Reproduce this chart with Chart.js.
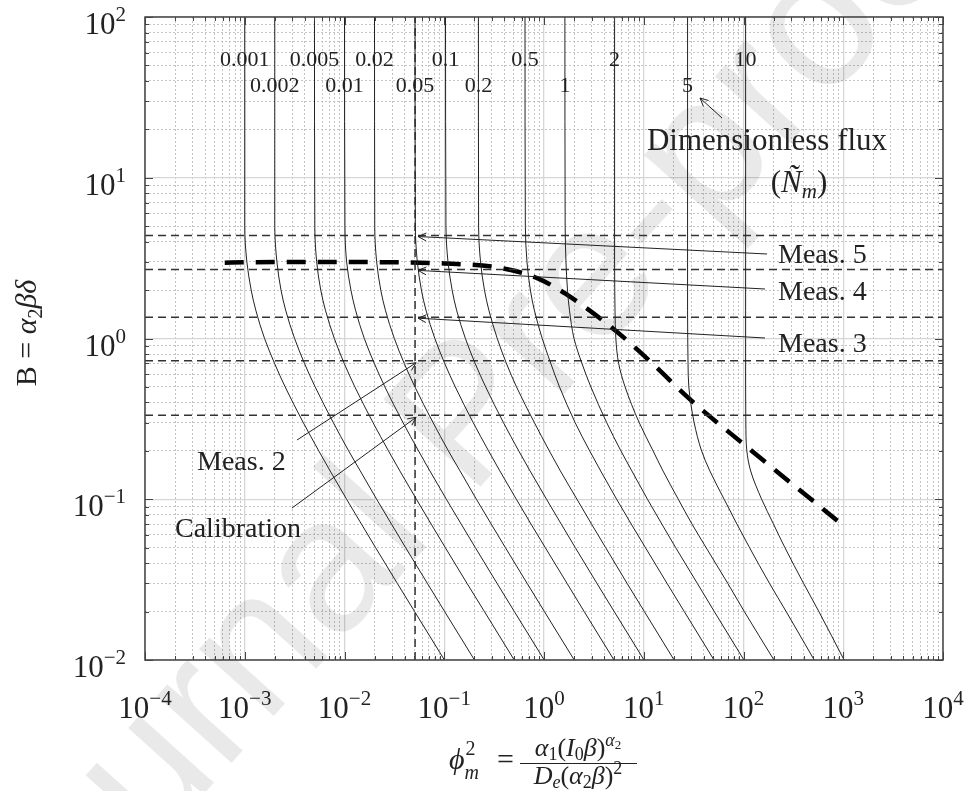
<!DOCTYPE html>
<html>
<head>
<meta charset="utf-8">
<script src="https://cdn.jsdelivr.net/npm/chart.js@4.4.0/dist/chart.umd.min.js"></script>
<style>
  html, body { margin: 0; padding: 0; background: #fff; }
</style>
</head>
<body>
<canvas id="myChart" width="966" height="791"></canvas>
<script>
var bGrid = [100, 5, 3, 2, 1.5, 1, 0.7, 0.5, 0.3, 0.2, 0.15, 0.1, 0.07, 0.05, 0.03, 0.02, 0.01];

// flux labels of the curves
var fluxLabels = ['0.001', '0.002', '0.005', '0.01', '0.02', '0.05', '0.1', '0.2', '0.5', '1', '2', '5', '10'];

// phi_m^2 (x) of each curve at the B values above
var flux0001 = [0.001, 0.001, 0.00105, 0.00116, 0.00129, 0.00158, 0.00199, 0.00254, 0.00386, 0.00552, 0.00718, 0.0105, 0.0148, 0.0205, 0.0338, 0.0505, 0.1005];
var flux0002 = [0.002, 0.002, 0.0021, 0.00231, 0.00257, 0.00316, 0.00397, 0.00508, 0.00772, 0.011, 0.0144, 0.021, 0.0296, 0.041, 0.0677, 0.101, 0.201];
var flux0005 = [0.005, 0.00504, 0.00526, 0.00578, 0.00644, 0.00791, 0.00993, 0.0127, 0.0193, 0.0276, 0.0359, 0.0526, 0.074, 0.1025, 0.169, 0.253, 0.503];
var flux001 = [0.01, 0.0101, 0.0105, 0.0116, 0.0129, 0.0158, 0.0199, 0.0254, 0.0386, 0.0552, 0.0718, 0.105, 0.148, 0.205, 0.338, 0.505, 1.005];
var flux002 = [0.02, 0.0201, 0.021, 0.0231, 0.0257, 0.0316, 0.0397, 0.0508, 0.0772, 0.11, 0.144, 0.21, 0.296, 0.41, 0.677, 1.01, 2.01];
var flux005 = [0.051, 0.0513, 0.0537, 0.059, 0.0656, 0.0805, 0.101, 0.129, 0.195, 0.278, 0.361, 0.528, 0.742, 1.03, 1.7, 2.53, 5.03];
var flux01 = [0.103, 0.104, 0.109, 0.12, 0.133, 0.163, 0.204, 0.26, 0.392, 0.558, 0.725, 1.06, 1.49, 2.06, 3.39, 5.06, 10.06];
var flux02 = [0.22, 0.221, 0.231, 0.253, 0.28, 0.34, 0.42, 0.53, 0.8, 1.13, 1.46, 2.14, 3.0, 4.15, 6.8, 10.15, 20.15];
var flux05 = [0.645, 0.65, 0.675, 0.73, 0.8, 0.96, 1.17, 1.43, 2.05, 2.87, 3.7, 5.35, 7.5, 10.4, 17.1, 25.5, 50.6];
var flux1 = [1.62, 1.63, 1.66, 1.72, 1.8, 2.0, 2.4, 2.95, 4.25, 5.9, 7.6, 10.9, 15.2, 20.9, 34.4, 51, 101];
var flux2 = [5.1, 5.1, 5.1, 5.12, 5.15, 5.25, 5.6, 6.5, 9.0, 12.4, 15.6, 22.2, 30.5, 42.2, 69.5, 102, 202];
var flux5 = [27.5, 27.5, 27.5, 27.5, 27.5, 27.6, 27.8, 28.3, 32, 38, 46, 64, 86, 115, 182, 268, 512];
var flux10 = [105, 105, 105, 105, 105, 105, 105, 105, 105.5, 108, 118, 152, 200, 260, 400, 570, 1020];

// thick dashed operating line
var thickPhi = [0.00063, 0.001, 0.003, 0.01, 0.03, 0.1, 0.3, 0.55, 0.89, 1.64, 5.3, 12, 28, 107, 1070];
var thickB = [2.96, 2.98, 2.99, 2.99, 2.98, 2.93, 2.8, 2.6, 2.35, 1.9, 1.11, 0.706, 0.427, 0.213, 0.0663];

// measurements: B of each horizontal dashed line, phi of the vertical one
var measB = [0.333, 0.727, 1.357, 2.69, 4.37];
var measPhi = 0.051;

// axis decades and their exponent labels
var xDecades = [1e-4, 1e-3, 1e-2, 1e-1, 1, 10, 100, 1000, 1e4];
var xExponents = ['\u22124', '\u22123', '\u22122', '\u22121', '0', '1', '2', '3', '4'];
var yDecades = [1e-2, 1e-1, 1, 10, 100];
var yExponents = ['\u22122', '\u22121', '0', '1', '2'];

var curveSets = [flux0001, flux0002, flux0005, flux001, flux002, flux005, flux01, flux02, flux05, flux1, flux2, flux5, flux10];

function withMinors(decades) {
  var out = [];
  for (var i = 0; i < decades.length; i++) {
    out.push(decades[i]);
    if (i < decades.length - 1) {
      for (var k = 2; k <= 9; k++) out.push(+(decades[i] * k).toPrecision(3));
    }
  }
  return out;
}
var xTicks = withMinors(xDecades);
var yTicks = withMinors(yDecades);

function isDecade(v) {
  var l = Math.log10(v);
  return Math.abs(l - Math.round(l)) < 1e-6;
}

var SERIF = '"Liberation Serif", "Times New Roman", serif';

function drawRich(ctx, parts, x, y, align) {
  var total = 0;
  parts.forEach(function(p) {
    ctx.font = (p[2] ? 'italic ' : '') + p[1] + 'px ' + SERIF;
    p.w = ctx.measureText(p[0]).width + (p[4] || 0);
    total += p.w;
  });
  var cx = x;
  if (align === 'center') cx = x - total / 2;
  if (align === 'right') cx = x - total;
  parts.forEach(function(p) {
    ctx.font = (p[2] ? 'italic ' : '') + p[1] + 'px ' + SERIF;
    ctx.fillText(p[0], cx, y + (p[3] || 0));
    cx += p.w;
  });
  return cx;
}

function arrow(ctx, x1, y1, x2, y2) {
  var a = Math.atan2(y2 - y1, x2 - x1);
  ctx.beginPath();
  ctx.moveTo(x1, y1);
  ctx.lineTo(x2, y2);
  ctx.moveTo(x2 - 9 * Math.cos(a - 0.45), y2 - 9 * Math.sin(a - 0.45));
  ctx.lineTo(x2, y2);
  ctx.lineTo(x2 - 9 * Math.cos(a + 0.45), y2 - 9 * Math.sin(a + 0.45));
  ctx.stroke();
}

var decor = {
  id: 'decor',
  beforeDatasetsDraw: function(chart) {
    var ctx = chart.ctx;
    ctx.save();
    ctx.translate(470, 420);
    ctx.rotate(-48 * Math.PI / 180);
    ctx.fillStyle = 'rgba(0,0,0,0.085)';
    ctx.font = '190px "Liberation Sans", Arial, sans-serif';
    ctx.textAlign = 'center';
    ctx.textBaseline = 'middle';
    ctx.fillText('Journal Pre-proof', 0, 0);
    ctx.restore();
  },
  afterDraw: function(chart) {
    var ctx = chart.ctx;
    var xs = chart.scales.x, ys = chart.scales.y;
    var a = chart.chartArea;
    ctx.save();

    // frame and inward ticks
    ctx.strokeStyle = '#444';
    ctx.lineWidth = 1.5;
    ctx.strokeRect(a.left, a.top, a.right - a.left, a.bottom - a.top);
    ctx.lineWidth = 1;
    ctx.beginPath();
    xTicks.forEach(function(v) {
      var px = Math.round(xs.getPixelForValue(v)) + 0.5;
      var len = isDecade(v) ? 8 : 4;
      ctx.moveTo(px, a.bottom); ctx.lineTo(px, a.bottom - len);
      ctx.moveTo(px, a.top); ctx.lineTo(px, a.top + len);
    });
    yTicks.forEach(function(v) {
      var py = Math.round(ys.getPixelForValue(v)) + 0.5;
      var len = isDecade(v) ? 8 : 4;
      ctx.moveTo(a.left, py); ctx.lineTo(a.left + len, py);
      ctx.moveTo(a.right, py); ctx.lineTo(a.right - len, py);
    });
    ctx.stroke();

    ctx.fillStyle = '#222';
    ctx.textAlign = 'left';
    ctx.textBaseline = 'alphabetic';

    // tick labels
    xDecades.forEach(function(v, i) {
      drawRich(ctx, [['10', 31], [xExponents[i], 21, false, -13]], xs.getPixelForValue(v), 718, 'center');
    });
    yDecades.forEach(function(v, i) {
      drawRich(ctx, [['10', 31], [yExponents[i], 21, false, -13]], 126, ys.getPixelForValue(v) + 17, 'right');
    });

    // axis titles
    ctx.save();
    ctx.translate(36, 333);
    ctx.rotate(-Math.PI / 2);
    drawRich(ctx, [['B = ', 30], ['\u03b1', 30, true], ['2', 20, false, 6], ['\u03b2\u03b4', 30, true]], 0, 0, 'center');
    ctx.restore();

    var end = drawRich(ctx, [['\u03d5', 30, true]], 449, 769, 'left');
    drawRich(ctx, [['2', 20]], end + 1, 755, 'left');
    drawRich(ctx, [['m', 20, true]], end, 779, 'left');
    drawRich(ctx, [['=', 30]], 497, 769, 'left');
    ctx.fillRect(520, 763, 117, 1);
    drawRich(ctx, [['\u03b1', 26, true], ['1', 18, false, 4], ['(', 26], ['I', 26, true], ['0', 18, false, 4], ['\u03b2', 26, true], [')', 26], ['\u03b1', 18, true, -10], ['2', 13, false, -7]], 578, 756, 'center');
    drawRich(ctx, [['D', 26, true], ['e', 18, true, 4], ['(', 26], ['\u03b1', 26, true], ['2', 18, false, 4], ['\u03b2', 26, true], [')', 26], ['2', 18, false, -10]], 578, 784, 'center');

    // curve labels, two staggered rows
    curveSets.forEach(function(c, i) {
      var px = xs.getPixelForValue(c[0]);
      drawRich(ctx, [[fluxLabels[i], 22]], px, i % 2 === 0 ? 66 : 92, 'center');
    });

    // annotations
    ctx.strokeStyle = '#222';
    ctx.lineWidth = 1;
    var mx = xs.getPixelForValue(measPhi);
    arrow(ctx, 767, 254, mx + 3, ys.getPixelForValue(measB[4]) + 1);
    arrow(ctx, 765, 289, mx + 3, ys.getPixelForValue(measB[3]) + 1);
    arrow(ctx, 765, 338, mx + 3, ys.getPixelForValue(measB[2]) + 1);
    arrow(ctx, 297, 440, mx + 1, ys.getPixelForValue(measB[1]) + 2);
    arrow(ctx, 292, 508, mx + 1, ys.getPixelForValue(measB[0]) + 2);
    arrow(ctx, 722, 118, 700, 98);

    drawRich(ctx, [['Meas. 5', 28]], 778, 263, 'left');
    drawRich(ctx, [['Meas. 4', 28]], 778, 300, 'left');
    drawRich(ctx, [['Meas. 3', 28]], 778, 352, 'left');
    drawRich(ctx, [['Meas. 2', 28]], 197, 470, 'left');
    drawRich(ctx, [['Calibration', 28]], 175, 537, 'left');
    drawRich(ctx, [['Dimensionless flux', 31]], 767, 150, 'center');
    drawRich(ctx, [['(', 31], ['\u00d1', 31, true], ['m', 21, true, 6], [')', 31]], 799, 192, 'center');

    ctx.restore();
  }
};

var datasets = [];
curveSets.forEach(function(c) {
  datasets.push({
    data: c.map(function(x, i) { return {x: x, y: bGrid[i]}; }),
    borderColor: '#222',
    borderWidth: 1,
    pointRadius: 0,
    indexAxis: 'y',
    cubicInterpolationMode: 'monotone'
  });
});
measB.forEach(function(b) {
  datasets.push({
    data: [{x: xDecades[0], y: b}, {x: xDecades[xDecades.length - 1], y: b}],
    borderColor: '#333',
    borderWidth: 1.5,
    borderDash: [8, 5],
    pointRadius: 0
  });
});
datasets.push({
  data: [{x: measPhi, y: yDecades[0]}, {x: measPhi, y: yDecades[yDecades.length - 1]}],
  borderColor: '#333',
  borderWidth: 1.5,
  borderDash: [8, 5],
  pointRadius: 0
});
datasets.push({
  data: thickPhi.map(function(x, i) { return {x: x, y: thickB[i]}; }),
  borderColor: '#000',
  borderWidth: 4.5,
  borderDash: [19, 12],
  pointRadius: 0,
  cubicInterpolationMode: 'monotone'
});

function logAxis(min, max, ticks, major, dash, pos) {
  return {
    type: 'logarithmic',
    position: pos,
    min: min,
    max: max,
    afterBuildTicks: function(scale) {
      scale.ticks = ticks.map(function(v) { return {value: v}; });
    },
    ticks: { display: false },
    border: { display: false, dash: dash },
    grid: {
      drawTicks: false,
      lineWidth: major ? 1.3 : 1,
      color: function(ctx) {
        if (!ctx.tick) return 'rgba(0,0,0,0)';
        var d = isDecade(ctx.tick.value);
        if (major) return d ? '#d6d6d6' : 'rgba(0,0,0,0)';
        return d ? 'rgba(0,0,0,0)' : '#c4c4c4';
      }
    }
  };
}

var ctx = document.getElementById('myChart');
var myChart = new Chart(ctx, {
  type: 'line',
  data: { datasets: datasets },
  options: {
    responsive: false,
    animation: false,
    devicePixelRatio: 1,
    layout: { padding: { left: 145, right: 23, top: 17, bottom: 131 } },
    plugins: { legend: { display: false }, tooltip: { enabled: false } },
    elements: { point: { radius: 0 } },
    scales: {
      xMinor: logAxis(1e-4, 1e4, xTicks, false, [2, 2], 'bottom'),
      yMinor: logAxis(1e-2, 1e2, yTicks, false, [2, 2], 'left'),
      x: logAxis(1e-4, 1e4, xTicks, true, [], 'bottom'),
      y: logAxis(1e-2, 1e2, yTicks, true, [], 'left')
    }
  },
  plugins: [decor]
});
</script>
</body>
</html>
